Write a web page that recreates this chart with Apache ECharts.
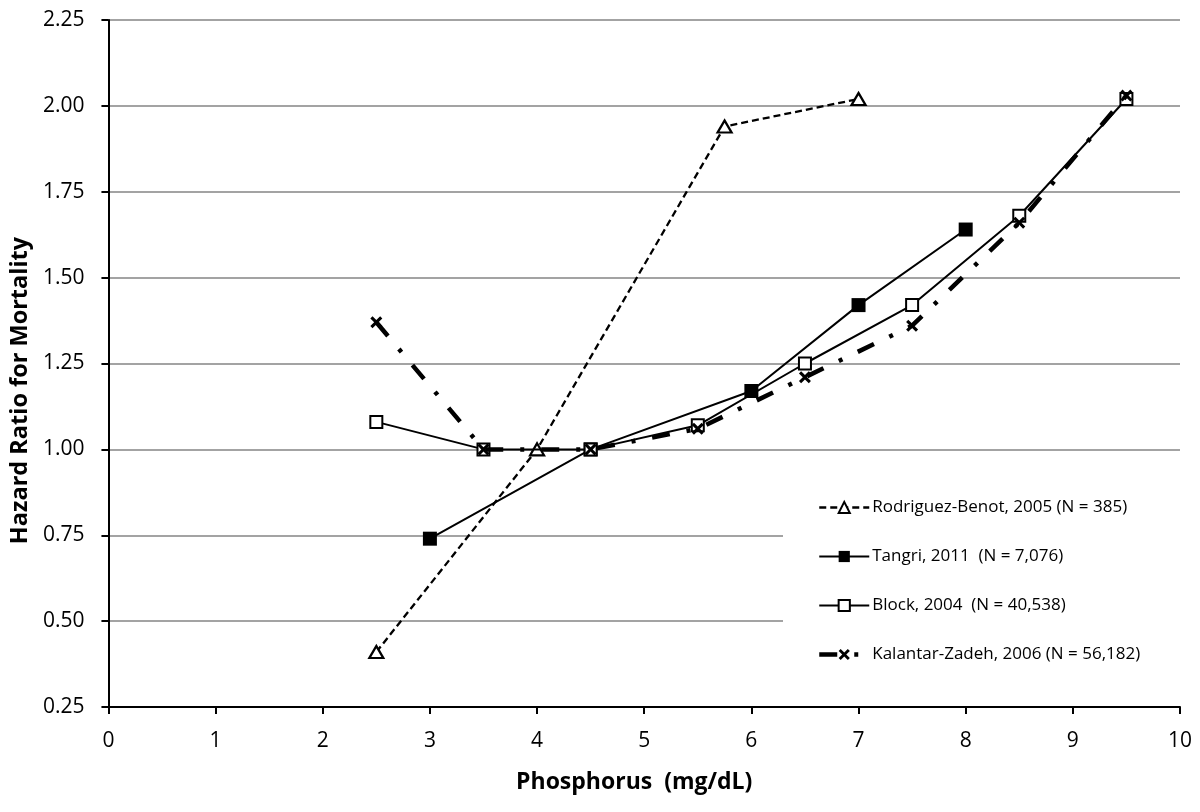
<!DOCTYPE html>
<html>
<head>
<meta charset="utf-8">
<script src="https://cdn.jsdelivr.net/npm/echarts@6/dist/echarts.min.js"></script>
<style>html,body{margin:0;padding:0;background:#fff;}#c{width:1200px;height:812px;}</style>
</head>
<body>
<div id="c"></div>
<script>
const seriesNames = [
  'Rodriguez-Benot, 2005 (N = 385)',
  'Tangri, 2011  (N = 7,076)',
  'Block, 2004  (N = 40,538)',
  'Kalantar-Zadeh, 2006 (N = 56,182)'
];
const rodriguezX = [2.5, 4, 5.75, 7];
const rodriguezY = [0.41, 1.00, 1.94, 2.02];
const tangriX = [3, 4.5, 6, 7, 8];
const tangriY = [0.74, 1.00, 1.17, 1.42, 1.64];
const blockX = [2.5, 3.5, 4.5, 5.5, 6.5, 7.5, 8.5, 9.5];
const blockY = [1.08, 1.00, 1.00, 1.07, 1.25, 1.42, 1.68, 2.02];
const kalantarX = [2.5, 3.5, 4.5, 5.5, 6.5, 7.5, 8.5, 9.5];
const kalantarY = [1.37, 1.00, 1.00, 1.06, 1.21, 1.36, 1.66, 2.03];
const xTitle = 'Phosphorus  (mg/dL)';
const yTitle = 'Hazard Ratio for Mortality';

function pairs(xs, ys) { return xs.map((x, i) => [x, ys[i]]); }
const FONT = 'Open Sans';
const xPath = 'path://M0,1.8 L1.8,0 L5,3.2 L8.2,0 L10,1.8 L6.8,5 L10,8.2 L8.2,10 L5,6.8 L1.8,10 L0,8.2 L3.2,5 Z';

const styles = [
  {lineStyle: {color: '#000', width: 2.3, type: [7, 4]}},
  {lineStyle: {color: '#000', width: 2}},
  {lineStyle: {color: '#000', width: 2}},
  {lineStyle: {color: '#000', width: 4.5, type: [18, 17, 4, 17], cap: 'butt'}}
];

const chart = echarts.init(document.getElementById('c'), null, {renderer: 'canvas'});
chart.setOption({
  animation: false,
  backgroundColor: '#fff',
  textStyle: {fontFamily: FONT, color: '#000'},
  grid: {left: 108, right: 20, top: 20, bottom: 105, containLabel: false},
  xAxis: {
    type: 'value', min: 0, max: 10, interval: 1,
    name: xTitle, nameLocation: 'middle', nameGap: 64,
    nameTextStyle: {fontFamily: FONT, fontSize: 23, fontWeight: 'bold', color: '#000',
      padding: [0, 20, 0, 0]},
    axisLine: {show: true, onZero: false, lineStyle: {color: '#000', width: 2}},
    axisTick: {show: true, length: 7, lineStyle: {color: '#000', width: 2}},
    axisLabel: {fontFamily: FONT, fontSize: 21, color: '#000', margin: 24},
    splitLine: {show: false}
  },
  yAxis: {
    type: 'value', min: 0.25, max: 2.25, interval: 0.25,
    name: yTitle, nameLocation: 'middle', nameGap: 74, nameRotate: 90,
    nameTextStyle: {fontFamily: FONT, fontSize: 23.5, fontWeight: 'bold', color: '#000',
      padding: [0, 54, 0, 0]},
    axisLine: {show: true, onZero: false, lineStyle: {color: '#000', width: 2}},
    axisTick: {show: true, length: 7, lineStyle: {color: '#000', width: 2}},
    axisLabel: {fontFamily: FONT, fontSize: 21, color: '#000', margin: 24,
      formatter: v => v.toFixed(2)},
    splitLine: {show: true, lineStyle: {color: '#a3a3a3', width: 2}}
  },
  legend: {
    orient: 'vertical', left: 783, top: 477,
    padding: [22, 80, 30, 34], itemGap: 32,
    itemWidth: 50, itemHeight: 14,
    backgroundColor: '#fff',
    textStyle: {fontFamily: FONT, fontSize: 17, color: '#000', padding: [0, 0, 0, -2]},
    data: seriesNames.map((n, i) => ({name: n, lineStyle: styles[i].lineStyle}))
  },
  series: [
    {
      name: seriesNames[0], type: 'line', data: pairs(rodriguezX, rodriguezY),
      symbol: 'triangle', symbolSize: [14, 12],
      itemStyle: {color: '#fff', borderColor: '#000', borderWidth: 2.2},
      lineStyle: styles[0].lineStyle, z: 3
    },
    {
      name: seriesNames[1], type: 'line', data: pairs(tangriX, tangriY),
      symbol: 'rect', symbolSize: 14,
      itemStyle: {color: '#000', borderColor: '#000', borderWidth: 0},
      lineStyle: styles[1].lineStyle, z: 4
    },
    {
      name: seriesNames[2], type: 'line', data: pairs(blockX, blockY),
      symbol: 'rect', symbolSize: 12,
      itemStyle: {color: '#fff', borderColor: '#000', borderWidth: 2},
      lineStyle: styles[2].lineStyle, z: 5
    },
    {
      name: seriesNames[3], type: 'line', data: pairs(kalantarX, kalantarY),
      symbol: xPath, symbolSize: 12,
      itemStyle: {color: '#000', borderColor: '#000', borderWidth: 0},
      lineStyle: styles[3].lineStyle, z: 6
    }
  ]
});
</script>
</body>
</html>
